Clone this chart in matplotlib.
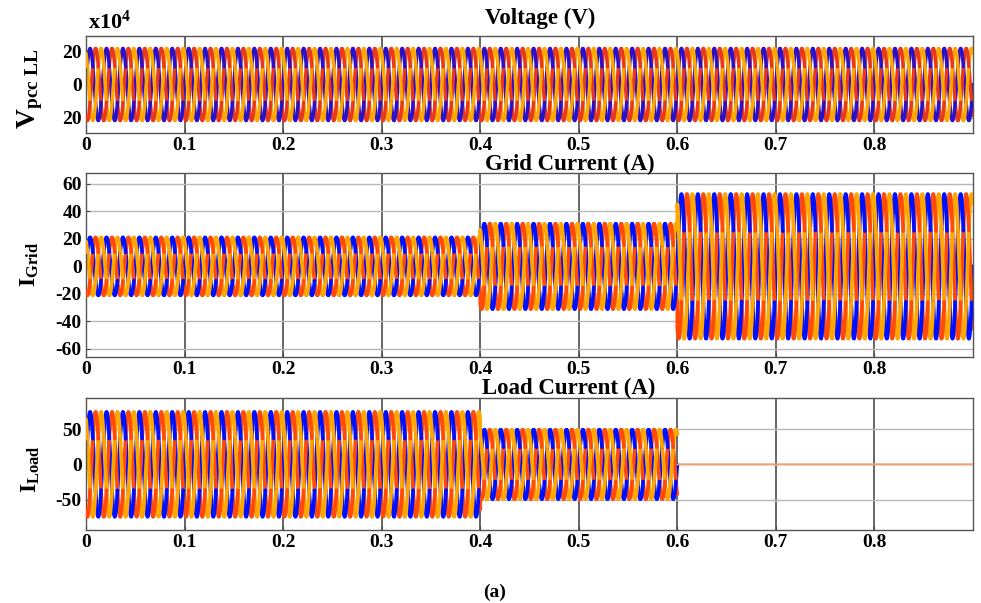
import numpy as np
import matplotlib
matplotlib.use('Agg')
import matplotlib.pyplot as plt

plt.rcParams['font.family'] = ['Liberation Serif', 'DejaVu Serif']
plt.rcParams['font.weight'] = 'bold'
plt.rcParams['axes.unicode_minus'] = False
plt.rcParams['mathtext.fontset'] = 'custom'
plt.rcParams['mathtext.rm'] = 'Liberation Serif:bold'
plt.rcParams['mathtext.bf'] = 'Liberation Serif:bold'
plt.rcParams['mathtext.it'] = 'Liberation Serif:bold'

# --- values ---
freq = 60                        # Hz
seg_edges = [0.0, 0.4, 0.6, 0.9]  # s, load steps
volt_amp = [21.5, 21.5, 21.5]     # x10^4 V
grid_amp = [21, 31, 52.5]         # A
load_amp = [74, 49, 0]            # A

phase_colors = ['#0010ff', '#ff4a0a', '#ffa600']
volt_colors = ['#2a10c8', '#e8381e', '#ffa600']

xticks = [0, 0.1, 0.2, 0.3, 0.4, 0.5, 0.6, 0.7, 0.8]
volt_ticks = [20, 0, -20]
volt_ticklabels = ['20', '0', '20']
grid_ticks = [60, 40, 20, 0, -20, -40, -60]
load_ticks = [50, 0, -50]

t = np.linspace(0, 0.9, 24000)


def amp_profile(amps):
    idx = np.clip(np.searchsorted(seg_edges, t, side='right') - 1, 0, len(amps) - 1)
    return np.asarray(amps, dtype=float)[idx]


def draw_three_phase(ax, amps, colors, lw=2.7):
    a = amp_profile(amps)
    active = a > 0
    # split into short chunks and rotate which phase sits on top,
    # so no single colour hides the others at the crossings
    chunk = np.floor(t * freq * 6 + 0.5).astype(int)
    first = np.r_[True, chunk[:-1] != chunk[1:]]
    for k, c in enumerate(colors):
        y = a * np.sin(2 * np.pi * freq * t - 2 * np.pi * k / 3)
        for j in np.unique(chunk[active]):
            m = active & ((chunk == j) | ((chunk == j + 1) & first))
            ax.plot(t[m], y[m], color=c, lw=lw, solid_capstyle='round', zorder=2 + (j + k) % 3)
    if (~active).any():
        ax.plot(t[~active], np.zeros((~active).sum()), color='#f0a070', lw=1.4, zorder=3)


def style(ax, ylim, yticks, yticklabels=None):
    ax.set_xlim(0, 0.9)
    ax.set_ylim(*ylim)
    ax.set_xticks(xticks)
    ax.set_xticklabels([f'{v:g}' for v in xticks])
    ax.set_yticks(yticks)
    if yticklabels is not None:
        ax.set_yticklabels(yticklabels)
    ax.tick_params(direction='in', length=3, color='#444444', labelsize=14, pad=3)
    for lab in ax.get_xticklabels() + ax.get_yticklabels():
        lab.set_fontweight('bold')
    ax.grid(axis='x', color='#5a5a5a', lw=1.3, zorder=0)
    ax.grid(axis='y', color='#b8b8b8', lw=1.0, zorder=0)
    ax.set_axisbelow(True)
    for s in ax.spines.values():
        s.set_color('#555555')
        s.set_linewidth(1.0)


fig = plt.figure(figsize=(9.81, 6.03), dpi=100)
left, width = 86 / 981, 887 / 981
ax1 = fig.add_axes([left, 1 - 133 / 603, width, 97 / 603])
ax2 = fig.add_axes([left, 1 - 357 / 603, width, 184 / 603])
ax3 = fig.add_axes([left, 1 - 530 / 603, width, 132 / 603])

draw_three_phase(ax1, volt_amp, volt_colors, lw=2.5)
draw_three_phase(ax2, grid_amp, phase_colors)
draw_three_phase(ax3, load_amp, phase_colors)

style(ax1, (-29, 29), volt_ticks, volt_ticklabels)
style(ax2, (-66, 68), grid_ticks)
style(ax3, (-93, 94), load_ticks)

fig.text(540 / 981, 1 - 18 / 603, 'Voltage (V)', ha='center', va='center', fontsize=16.5, fontweight='bold')
fig.text(570 / 981, 1 - 164 / 603, 'Grid Current (A)', ha='center', va='center', fontsize=16.5, fontweight='bold')
fig.text(569 / 981, 1 - 388 / 603, 'Load Current (A)', ha='center', va='center', fontsize=16.5, fontweight='bold')
fig.text(88 / 981, 1 - 22 / 603, r'x10$^{4}$', ha='left', va='center', fontsize=16, fontweight='bold')

fig.text(30 / 981, 1 - 89 / 603, r'$\mathbf{V}_{\mathbf{pcc\ LL}}$', rotation=90, ha='center', va='center', fontsize=20)
fig.text(30 / 981, 1 - 264 / 603, r'$\mathbf{I}_{\mathbf{Grid}}$', rotation=90, ha='center', va='center', fontsize=17)
fig.text(31 / 981, 1 - 469 / 603, r'$\mathbf{I}_{\mathbf{Load}}$', rotation=90, ha='center', va='center', fontsize=17)

fig.text(495 / 981, 1 - 592 / 603, '(a)', ha='center', va='center', fontsize=14, fontweight='bold')

fig.savefig('out.png', dpi=100)
